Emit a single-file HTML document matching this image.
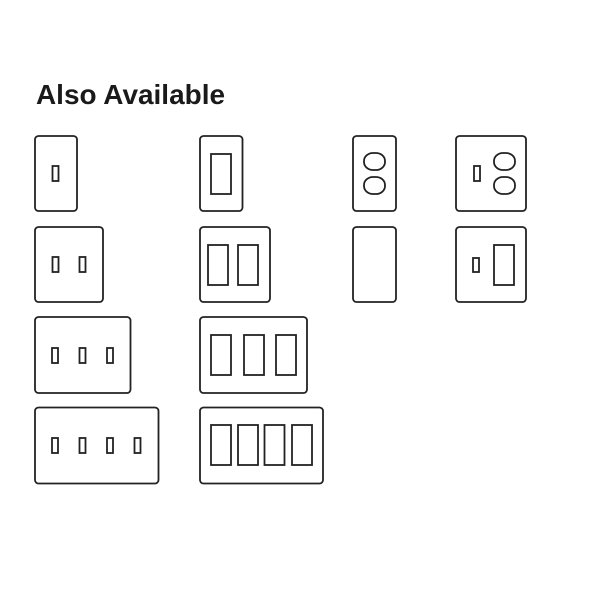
<!DOCTYPE html>
<html><head><meta charset="utf-8"><style>
html,body{margin:0;padding:0;background:#fff;}
svg{display:block}
</style></head><body>
<svg width="600" height="600" viewBox="0 0 600 600" xmlns="http://www.w3.org/2000/svg">
<rect width="600" height="600" fill="#fff"/>
<text x="36" y="104" font-family="Liberation Sans, sans-serif" font-weight="bold" font-size="28" fill="#1a1a1a" textLength="189" lengthAdjust="spacingAndGlyphs">Also Available</text>
<g fill="none" stroke="#222" stroke-width="1.8">
<rect x="35" y="136" width="42" height="75" rx="3.5"/>
<rect x="52.5" y="166" width="6" height="15"/>
<rect x="200" y="136" width="42.5" height="75" rx="3.5"/>
<rect x="211" y="154" width="20" height="40"/>
<rect x="353" y="136" width="43" height="75" rx="3.5"/>
<rect x="364" y="153" width="21" height="17" rx="9" ry="8"/>
<rect x="364" y="177" width="21" height="17" rx="9" ry="8"/>
<rect x="456" y="136" width="70" height="75" rx="3.5"/>
<rect x="474" y="166" width="6" height="15"/>
<rect x="494" y="153" width="21" height="17" rx="9" ry="8"/>
<rect x="494" y="177" width="21" height="17" rx="9" ry="8"/>
<rect x="35" y="227" width="68" height="75" rx="3.5"/>
<rect x="52.5" y="257" width="6" height="15"/>
<rect x="79.5" y="257" width="6" height="15"/>
<rect x="200" y="227" width="70" height="75" rx="3.5"/>
<rect x="208" y="245" width="20" height="40"/>
<rect x="238" y="245" width="20" height="40"/>
<rect x="353" y="227" width="43" height="75" rx="3.5"/>
<rect x="456" y="227" width="70" height="75" rx="3.5"/>
<rect x="473" y="258" width="6" height="14"/>
<rect x="494" y="245" width="20" height="40"/>
<rect x="35" y="317" width="95.5" height="76" rx="3.5"/>
<rect x="52" y="348" width="6" height="15"/>
<rect x="79.5" y="348" width="6" height="15"/>
<rect x="107" y="348" width="6" height="15"/>
<rect x="200" y="317" width="107" height="76" rx="3.5"/>
<rect x="211" y="335" width="20" height="40"/>
<rect x="244" y="335" width="20" height="40"/>
<rect x="276" y="335" width="20" height="40"/>
<rect x="35" y="407.5" width="123.5" height="76" rx="3.5"/>
<rect x="52" y="438" width="6" height="15"/>
<rect x="79.5" y="438" width="6" height="15"/>
<rect x="107" y="438" width="6" height="15"/>
<rect x="134.5" y="438" width="6" height="15"/>
<rect x="200" y="407.5" width="123" height="76" rx="3.5"/>
<rect x="211" y="425" width="20" height="40"/>
<rect x="238" y="425" width="20" height="40"/>
<rect x="264.5" y="425" width="20" height="40"/>
<rect x="292" y="425" width="20" height="40"/>
</g>
</svg>
</body></html>
